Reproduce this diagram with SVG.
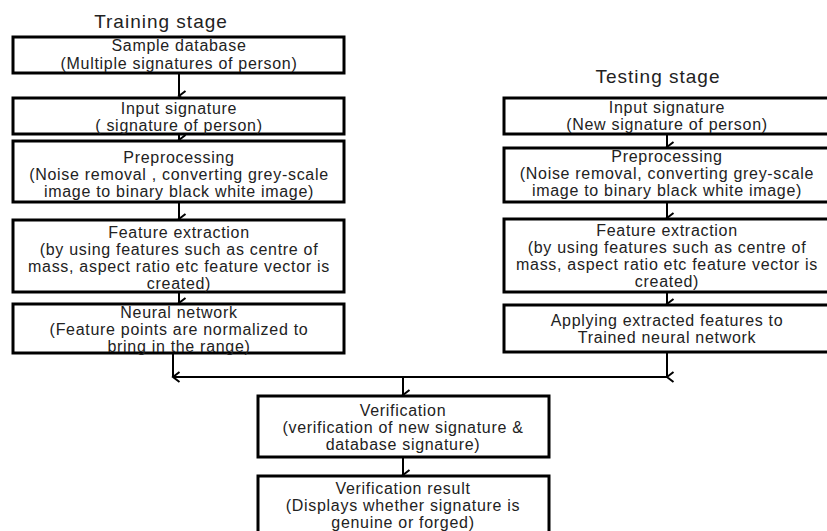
<svg xmlns="http://www.w3.org/2000/svg" width="827" height="531" viewBox="0 0 827 531">
<defs>
<style>
.box{fill:#fff;stroke:#000;stroke-width:3}
.t{font-family:"Liberation Sans",Arial,sans-serif;font-size:16px;fill:#222;text-anchor:middle;letter-spacing:0.7px}
.title{font-family:"Liberation Sans",Arial,sans-serif;font-size:19px;fill:#222;text-anchor:middle;letter-spacing:1px}
.c{stroke:#000;stroke-width:2;fill:none}
</style>
<marker id="ah" markerWidth="12" markerHeight="10" refX="6" refY="8" orient="auto-start-reverse" markerUnits="userSpaceOnUse" viewBox="0 0 12 10">
<path d="M1,1.5 L6,8 L11,1.5" fill="none" stroke="#000" stroke-width="2"/>
</marker>
</defs>
<rect width="827" height="531" fill="#fff"/>

<text class="title" x="161" y="28">Training stage</text>
<text class="title" x="658" y="83">Testing stage</text>

<g id="connectors">
<line class="c" x1="179" y1="73" x2="179" y2="96" marker-end="url(#ah)"/>
<line class="c" x1="179" y1="134" x2="179" y2="140" marker-end="url(#ah)"/>
<line class="c" x1="179" y1="202" x2="179" y2="219" marker-end="url(#ah)"/>
<line class="c" x1="179" y1="292" x2="179" y2="303" marker-end="url(#ah)"/>
<line class="c" x1="173" y1="353" x2="173" y2="377" marker-end="url(#ah)"/>
<line class="c" x1="667" y1="134" x2="667" y2="147" marker-end="url(#ah)"/>
<line class="c" x1="667" y1="202" x2="667" y2="218" marker-end="url(#ah)"/>
<line class="c" x1="667" y1="292" x2="667" y2="304" marker-end="url(#ah)"/>
<line class="c" x1="667" y1="352" x2="667" y2="377" marker-end="url(#ah)"/>
<line class="c" x1="173" y1="377" x2="667" y2="377"/>
<line class="c" x1="403" y1="377" x2="403" y2="395" marker-end="url(#ah)"/>
<line class="c" x1="403" y1="457" x2="403" y2="475" marker-end="url(#ah)"/>
</g>

<g id="sample-database">
<rect class="box" x="13" y="37" width="331" height="36"/>
<text class="t" x="179" y="51">Sample database</text>
<text class="t" x="179" y="69">(Multiple signatures of person)</text>
</g>
<g id="input-signature-train">
<rect class="box" x="13" y="98" width="331" height="36"/>
<text class="t" x="179" y="114">Input signature</text>
<text class="t" x="179" y="131">( signature of person)</text>
</g>
<g id="preprocessing-train">
<rect class="box" x="13" y="141" width="331" height="61"/>
<text class="t" x="179" y="163">Preprocessing</text>
<text class="t" x="179" y="180">(Noise removal , converting grey-scale</text>
<text class="t" x="179" y="197">image to binary black white image)</text>
</g>
<g id="feature-extraction-train">
<rect class="box" x="13" y="220" width="331" height="72"/>
<text class="t" x="179" y="238">Feature extraction</text>
<text class="t" x="179" y="255">(by using features such as centre of</text>
<text class="t" x="179" y="272">mass, aspect ratio etc feature vector is</text>
<text class="t" x="179" y="289">created)</text>
</g>
<g id="neural-network">
<rect class="box" x="13" y="304" width="331" height="49"/>
<text class="t" x="179" y="318">Neural network</text>
<text class="t" x="179" y="335">(Feature points are normalized to</text>
<text class="t" x="179" y="352">bring in the range)</text>
</g>

<g id="input-signature-test">
<rect class="box" x="504" y="98" width="330" height="36"/>
<text class="t" x="667" y="113">Input signature</text>
<text class="t" x="667" y="130">(New signature of person)</text>
</g>
<g id="preprocessing-test">
<rect class="box" x="504" y="148" width="330" height="54"/>
<text class="t" x="667" y="162">Preprocessing</text>
<text class="t" x="667" y="179">(Noise removal, converting grey-scale</text>
<text class="t" x="667" y="196">image to binary black white image)</text>
</g>
<g id="feature-extraction-test">
<rect class="box" x="504" y="219" width="330" height="73"/>
<text class="t" x="667" y="236">Feature extraction</text>
<text class="t" x="667" y="253">(by using features such as centre of</text>
<text class="t" x="667" y="270">mass, aspect ratio etc feature vector is</text>
<text class="t" x="667" y="287">created)</text>
</g>
<g id="applying-features">
<rect class="box" x="504" y="305" width="330" height="47"/>
<text class="t" x="667" y="326">Applying extracted  features to</text>
<text class="t" x="667" y="343">Trained neural  network</text>
</g>

<g id="verification">
<rect class="box" x="258" y="396" width="291" height="61"/>
<text class="t" x="403" y="416">Verification</text>
<text class="t" x="403" y="433">(verification of new signature &amp;</text>
<text class="t" x="403" y="450">database signature)</text>
</g>
<g id="verification-result">
<rect class="box" x="258" y="476" width="291" height="70"/>
<text class="t" x="403" y="494">Verification result</text>
<text class="t" x="403" y="511">(Displays whether signature is</text>
<text class="t" x="403" y="528">genuine or forged)</text>
</g>
</svg>
